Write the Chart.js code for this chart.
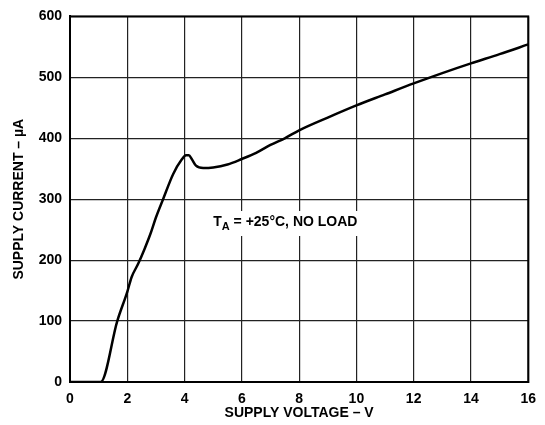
<!DOCTYPE html>
<html>
<head>
<meta charset="utf-8">
<script src="https://cdn.jsdelivr.net/npm/chart.js@4/dist/chart.umd.min.js"></script>
<style>
    html, body { margin: 0; padding: 0; background: #fff; }
    #wrap { width: 545px; height: 425px; }
</style>
</head>
<body>
<div id="wrap"><canvas id="kurve"></canvas></div>
<script>
// --- Daten ---
const spannung = [0, 1.07, 1.65, 2.0, 2.15, 2.38, 2.6, 2.8, 3.0, 3.25, 3.6, 3.9, 4.05, 4.15, 4.25, 4.4, 4.65, 5, 5.5, 6, 6.5, 7, 7.5, 8, 9, 10, 11, 12, 13, 14, 15, 16];
const strom = [0, 0, 100, 148, 172, 194, 218, 242, 270, 300, 341, 365, 372, 372, 366, 355, 351, 352, 357, 366, 376, 389, 400, 413, 434, 454, 472, 490, 507, 523, 538, 554];
const xTicks = [0, 2, 4, 6, 8, 10, 12, 14, 16];
const yTicks = [0, 100, 200, 300, 400, 500, 600];

const punkte = spannung.map((v, i) => ({ x: v, y: strom[i] }));
const schrift = "'Liberation Sans', Arial, sans-serif";

// --- Beschriftung T_A = +25°C, NO LOAD ---
const beschriftung = {
    id: "beschriftung",
    afterDatasetsDraw(chart) {
        const ctx = chart.ctx;
        const x = chart.scales.x.getPixelForValue(5.0);
        const y = chart.scales.y.getPixelForValue(256);
        ctx.save();
        ctx.font = "bold 14px " + schrift;
        const rest = " = +25\u00B0C, NO LOAD";
        const wT = ctx.measureText("T").width;
        ctx.font = "bold 11px " + schrift;
        const wA = ctx.measureText("A").width;
        ctx.font = "bold 14px " + schrift;
        const wR = ctx.measureText(rest).width;
        ctx.fillStyle = "#fff";
        ctx.fillRect(x - 3, y - 15, wT + wA + wR + 6, 25);
        ctx.fillStyle = "#000";
        ctx.textBaseline = "alphabetic";
        ctx.fillText("T", x, y);
        ctx.font = "bold 11px " + schrift;
        ctx.fillText("A", x + wT, y + 4);
        ctx.font = "bold 14px " + schrift;
        ctx.fillText(rest, x + wT + wA, y);
        ctx.restore();
    }
};

// --- Diagramm erzeugen ---
new Chart(document.getElementById("kurve"), {
    type: "scatter",
    data: {
        datasets: [{
            data: punkte,
            showLine: true,
            borderColor: "#000",
            borderWidth: 2.5,
            pointRadius: 0,
            cubicInterpolationMode: "monotone"
        }]
    },
    options: {
        responsive: true,
        maintainAspectRatio: false,
        animation: false,
        layout: { padding: { top: 15, right: 15, left: 0, bottom: 0 } },
        plugins: { legend: { display: false }, tooltip: { enabled: false } },
        scales: {
            x: {
                type: "linear",
                min: 0,
                max: 16,
                afterBuildTicks: s => { s.ticks = xTicks.map(v => ({ value: v })); },
                afterFit: s => { s.height = 43; },
                ticks: { color: "#000", padding: 9, font: { family: schrift, size: 14, weight: "bold" } },
                grid: { color: "#222", lineWidth: 1.2, drawTicks: false },
                border: { color: "#000", width: 2 },
                title: {
                    display: true,
                    text: "SUPPLY VOLTAGE \u2013 V",
                    color: "#000",
                    padding: { top: 0, bottom: 3 },
                    font: { family: schrift, size: 14, weight: "bold" }
                }
            },
            y: {
                min: 0,
                max: 600,
                afterBuildTicks: s => { s.ticks = yTicks.map(v => ({ value: v })); },
                afterFit: s => { s.width = 70; },
                ticks: { color: "#000", padding: 8, font: { family: schrift, size: 14, weight: "bold" } },
                grid: { color: "#222", lineWidth: 1.2, drawTicks: false },
                border: { color: "#000", width: 2 },
                title: {
                    display: true,
                    text: "SUPPLY CURRENT \u2013 \u00B5A",
                    color: "#000",
                    padding: { top: 11, bottom: 0 },
                    font: { family: schrift, size: 14, weight: "bold" }
                }
            }
        }
    },
    plugins: [beschriftung, {
        // Rahmen oben und rechts
        id: "rahmen",
        afterDraw(chart) {
            const a = chart.chartArea;
            const ctx = chart.ctx;
            ctx.save();
            ctx.strokeStyle = "#000";
            ctx.lineWidth = 2;
            ctx.strokeRect(a.left, a.top, a.right - a.left, a.bottom - a.top);
            ctx.restore();
        }
    }]
});
</script>
</body>
</html>
